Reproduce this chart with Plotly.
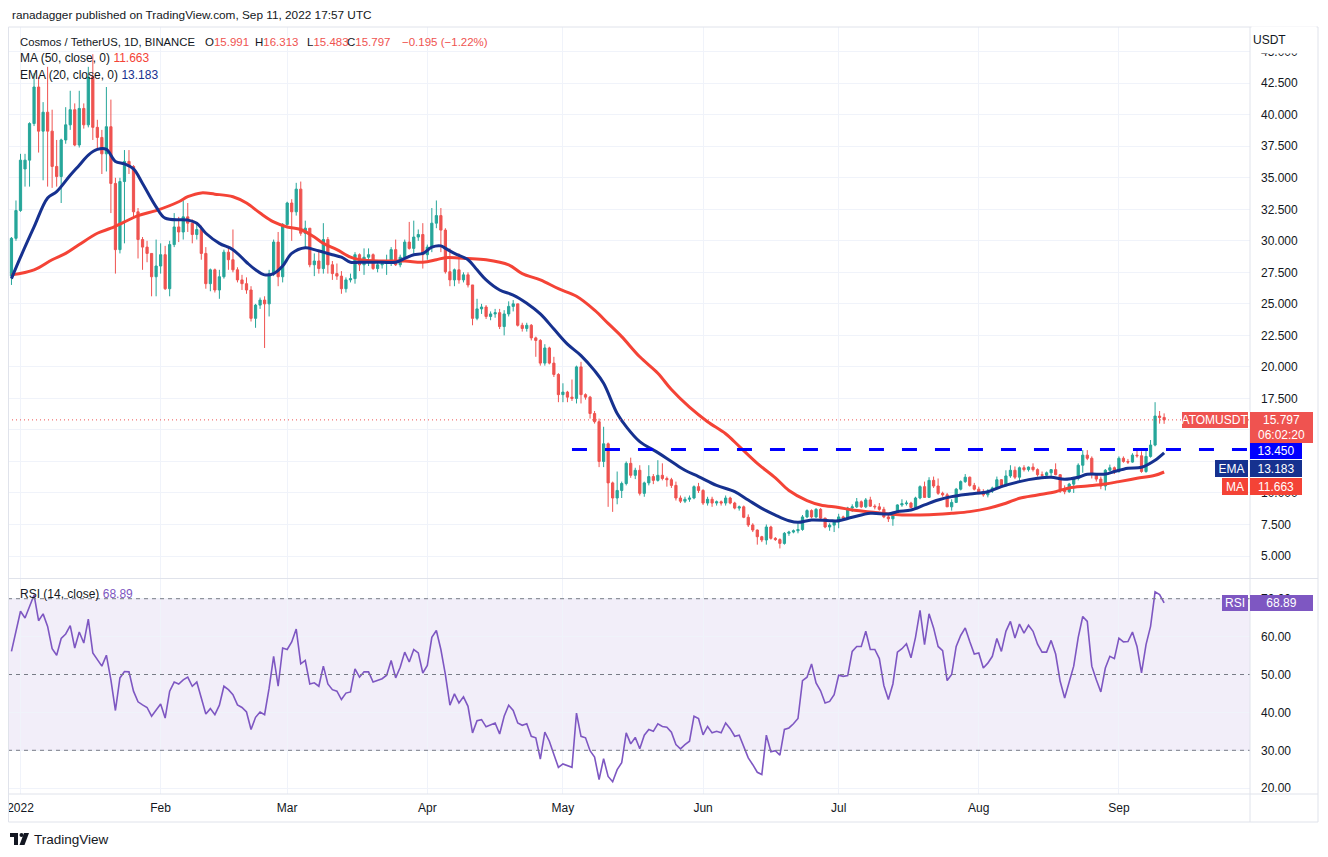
import plotly.graph_objects as go
import pandas as pd

# The page body has an 8px margin, so the figure is drawn 8px in from the top-left.
OX, OY = 8, 8
W, H = 1328 - 2 * OX, 857 - 2 * OY
def fx(x): return (x - OX) / W
def fy(y): return 1 - (y - OY) / H

UP, DOWN = "#26A69A", "#EF5350"
TEXT = "#131722"
GRID = "#F0F3FA"
BORDER = "#E0E3EB"
FONT = "Liberation Sans"
MA_COL = "#F44336"
EMA_COL = "#16318F"
RSI_COL = "#7E57C2"

# ---------------- data ----------------
first_day = "2021-12-30"
open_ = [
 27.2, 30.2, 32.4, 35.7, 36.4, 39.3, 42.2, 38.7, 40.2, 38.7,
 35.9, 35.1, 38.0, 39.2, 40.4, 37.6, 40.5, 39.2, 43.0, 39.0,
 38.2, 36.9, 39.05, 34.55, 29.3, 34.7, 36.3, 35.9, 32.3, 30.1,
 29.5, 29.0, 27.15, 28.0, 28.9, 26.2, 29.7, 31.1, 30.7, 31.9,
 31.4, 30.5, 30.9, 29.0, 26.6, 27.7, 26.1, 27.15, 29.1, 28.5,
 27.7, 26.9, 26.6, 26.1, 23.85, 24.9, 25.3, 25.0, 27.4, 29.9,
 27.15, 31.3, 33.0, 32.3, 34.1, 30.6, 31.0, 28.1, 28.4, 27.8,
 30.1, 28.1, 27.4, 27.2, 26.2, 26.9, 27.0, 28.9, 28.1, 28.7,
 28.9, 27.8, 28.1, 28.2, 28.4, 29.3, 28.1, 28.7, 29.9, 29.4,
 30.3, 30.5, 28.9, 29.5, 31.4, 32.0, 30.85, 27.55, 26.9, 27.7,
 26.9, 27.3, 26.5, 23.85, 24.6, 24.75, 24.0, 24.2, 24.3, 23.2,
 24.2, 24.8, 25.0, 23.3, 23.05, 23.3, 22.3, 22.1, 20.3, 21.5,
 20.3, 19.4, 17.8, 18.0, 17.6, 17.5, 20.0, 17.8, 17.6, 16.3,
 15.65, 12.5, 13.9, 10.8, 9.6, 10.2, 10.75, 12.35, 11.4, 11.8,
 9.97, 10.8, 11.3, 11.0, 11.4, 11.15, 11.05, 10.6, 9.6, 9.35,
 9.5, 9.6, 10.5, 10.2, 9.2, 9.5, 9.2, 9.3, 9.2, 9.6,
 9.2, 8.8, 8.9, 8.07, 7.46, 7.06, 6.53, 6.27, 7.3, 6.4,
 6.3, 6.0, 6.8, 6.9, 7.0, 7.1, 8.1, 8.6, 8.1, 8.7,
 8.0, 7.3, 7.45, 7.7, 8.1, 8.0, 8.8, 8.9, 9.3, 8.9,
 9.45, 8.95, 8.9, 8.7, 8.1, 7.95, 8.45, 9.05, 9.15, 9.2,
 8.85, 9.6, 10.5, 9.65, 11.0, 10.55, 9.97, 9.85, 8.9, 9.25,
 10.3, 10.9, 11.25, 10.6, 10.3, 10.0, 9.85, 10.15, 10.4, 11.05,
 10.6, 11.35, 11.8, 11.25, 12.0, 11.85, 12.05, 11.85, 11.45, 11.4,
 11.6, 11.85, 11.45, 10.25, 10.1, 10.7, 11.15, 12.2, 13.0, 12.75,
 11.45, 11.1, 10.55, 11.8, 12.0, 11.7, 12.75, 12.5, 12.45, 13.0,
 12.95, 11.7, 12.9, 13.8, 16.1, 15.991]
high = [
 30.3, 33.2, 36.9, 36.9, 39.4, 43.3, 43.0, 41.0, 43.8, 40.4,
 38.0, 38.1, 40.6, 41.9, 40.9, 41.9, 40.9, 43.8, 44.8, 39.6,
 38.8, 42.2, 41.2, 35.0, 35.0, 37.2, 37.2, 36.0, 32.6, 30.3,
 30.0, 29.0, 30.1, 29.8, 29.6, 30.0, 32.2, 31.9, 33.2, 33.0,
 31.7, 31.3, 31.2, 29.5, 27.8, 27.8, 27.7, 29.3, 29.6, 30.9,
 27.9, 27.3, 27.1, 26.4, 25.0, 25.5, 25.6, 27.7, 30.1, 30.7,
 31.4, 33.1, 33.3, 34.6, 34.7, 31.6, 31.0, 29.0, 29.3, 31.4,
 30.3, 28.4, 28.2, 27.6, 27.1, 27.4, 29.1, 29.0, 29.4, 29.4,
 29.0, 28.4, 28.4, 28.9, 29.5, 30.1, 28.9, 30.1, 31.5, 31.6,
 30.9, 31.4, 29.7, 32.6, 33.2, 32.6, 31.0, 29.4, 27.8, 29.0,
 27.5, 27.5, 26.5, 25.4, 25.0, 24.9, 24.4, 24.6, 24.6, 24.5,
 25.2, 25.3, 25.0, 23.5, 23.5, 23.4, 22.4, 22.2, 21.8, 21.6,
 20.8, 19.5, 18.7, 18.1, 19.0, 20.1, 20.4, 17.9, 17.7, 16.5,
 15.9, 15.25, 14.0, 10.9, 11.7, 10.9, 12.5, 12.8, 12.0, 12.2,
 10.9, 12.2, 11.5, 12.6, 12.35, 11.3, 11.2, 10.9, 9.8, 9.7,
 9.8, 10.6, 10.8, 10.3, 9.7, 9.7, 9.4, 9.4, 9.8, 9.7,
 9.3, 9.0, 9.0, 8.3, 7.6, 7.1, 6.6, 7.5, 7.4, 6.5,
 6.4, 6.9, 7.0, 7.1, 7.6, 8.25, 8.7, 8.7, 8.8, 8.8,
 8.05, 7.6, 7.8, 8.35, 8.2, 8.9, 9.1, 9.6, 9.4, 9.6,
 9.7, 9.1, 9.2, 8.9, 8.3, 8.5, 9.1, 9.5, 9.4, 9.3,
 9.7, 10.6, 10.9, 11.25, 11.3, 11.15, 10.1, 10.0, 9.5, 10.4,
 11.0, 11.5, 11.3, 10.8, 10.5, 10.3, 10.3, 10.5, 11.3, 11.1,
 11.8, 12.2, 12.1, 12.1, 12.2, 12.1, 12.35, 11.95, 11.7, 11.7,
 11.9, 12.35, 11.5, 10.6, 10.8, 11.25, 12.35, 13.4, 13.4, 12.9,
 11.5, 11.3, 11.9, 12.25, 12.1, 12.9, 12.9, 12.7, 13.15, 13.35,
 13.3, 13.4, 14.2, 17.2, 16.5, 16.313]
low = [
 26.5, 30.0, 32.3, 34.3, 34.3, 39.1, 37.0, 34.8, 34.3, 34.2,
 34.3, 33.0, 37.7, 38.8, 37.5, 37.4, 38.9, 39.0, 38.0, 37.2,
 35.3, 35.5, 32.2, 27.4, 29.0, 29.8, 35.3, 31.9, 28.6, 27.7,
 28.3, 25.6, 25.6, 27.4, 26.1, 25.6, 29.5, 29.9, 30.1, 30.7,
 29.8, 30.1, 28.5, 26.2, 26.0, 25.9, 25.4, 27.0, 27.7, 27.5,
 26.7, 26.1, 25.8, 23.6, 23.1, 24.6, 21.5, 24.0, 27.2, 26.4,
 26.7, 31.2, 30.0, 32.0, 30.4, 29.5, 27.9, 27.2, 27.4, 27.4,
 27.4, 26.9, 26.9, 25.8, 25.9, 26.7, 26.6, 27.6, 27.3, 28.0,
 27.7, 27.5, 27.8, 27.3, 28.0, 28.0, 27.9, 28.5, 29.3, 29.0,
 30.0, 27.8, 28.5, 29.1, 31.0, 29.1, 27.4, 26.4, 26.4, 26.6,
 26.7, 26.3, 23.3, 23.7, 24.2, 23.8, 23.7, 23.9, 23.0, 22.5,
 24.0, 24.4, 23.2, 22.8, 22.8, 22.1, 20.8, 20.1, 20.1, 20.2,
 19.2, 17.2, 17.2, 17.2, 17.3, 17.1, 17.1, 17.4, 15.9, 15.5,
 12.05, 12.05, 8.9, 8.5, 9.1, 9.6, 10.6, 11.2, 11.1, 9.8,
 9.7, 10.6, 10.7, 10.9, 11.0, 10.5, 10.4, 9.4, 9.2, 9.2,
 9.3, 9.5, 10.0, 9.05, 9.0, 8.9, 9.0, 9.0, 9.0, 9.1,
 8.7, 8.6, 8.0, 7.3, 6.9, 5.9, 6.1, 5.9, 6.3, 6.2,
 5.6, 5.9, 6.6, 6.8, 6.8, 7.0, 8.0, 8.0, 8.0, 7.9,
 7.2, 7.0, 6.9, 7.2, 7.8, 7.9, 8.5, 8.8, 8.8, 8.8,
 8.9, 8.7, 8.6, 8.0, 7.7, 7.4, 8.4, 8.9, 9.0, 8.8,
 8.8, 9.5, 9.6, 9.6, 10.4, 9.85, 9.7, 8.9, 8.6, 9.2,
 10.2, 10.8, 10.5, 10.2, 9.9, 9.7, 9.65, 10.0, 10.3, 10.5,
 10.5, 11.2, 11.1, 10.8, 11.7, 11.7, 11.7, 11.3, 11.2, 11.3,
 11.3, 11.4, 10.0, 9.9, 10.0, 10.0, 11.0, 11.6, 12.6, 11.15,
 10.9, 10.3, 10.2, 11.7, 11.5, 11.6, 12.4, 12.3, 12.4, 12.8,
 11.6, 11.6, 12.8, 13.7, 15.5, 15.483]
close = [
 30.2, 32.4, 36.4, 36.4, 39.3, 42.2, 38.7, 40.2, 38.7, 35.9,
 35.1, 38.0, 39.2, 40.4, 37.6, 40.5, 39.2, 43.0, 39.0, 38.2,
 36.9, 39.05, 34.55, 29.3, 34.7, 36.3, 35.9, 32.3, 30.1, 29.5,
 29.0, 27.15, 28.0, 28.9, 26.2, 29.7, 31.1, 30.7, 31.9, 31.4,
 30.5, 30.9, 29.0, 26.6, 27.7, 26.1, 27.15, 29.1, 28.5, 27.7,
 26.9, 26.6, 26.1, 23.85, 24.9, 25.3, 25.0, 27.4, 29.9, 27.15,
 31.3, 33.0, 32.3, 34.1, 30.6, 31.0, 28.1, 28.4, 27.8, 30.1,
 28.1, 27.4, 27.2, 26.2, 26.9, 27.0, 28.9, 28.1, 28.7, 28.9,
 27.8, 28.1, 28.2, 28.4, 29.3, 28.1, 28.7, 29.9, 29.4, 30.3,
 30.5, 28.9, 29.5, 31.4, 32.0, 30.85, 27.55, 26.9, 27.7, 26.9,
 27.3, 26.5, 23.85, 24.6, 24.75, 24.0, 24.2, 24.3, 23.2, 24.2,
 24.8, 25.0, 23.3, 23.05, 23.3, 22.3, 22.1, 20.3, 21.5, 20.3,
 19.4, 17.8, 18.0, 17.6, 17.5, 20.0, 17.8, 17.6, 16.3, 15.65,
 12.5, 13.9, 10.8, 9.6, 10.2, 10.75, 12.35, 11.4, 11.8, 9.97,
 10.8, 11.3, 11.0, 11.4, 11.15, 11.05, 10.6, 9.6, 9.35, 9.5,
 9.6, 10.5, 10.2, 9.2, 9.5, 9.2, 9.3, 9.2, 9.6, 9.2,
 8.8, 8.9, 8.07, 7.46, 7.06, 6.53, 6.27, 7.3, 6.4, 6.3,
 6.0, 6.8, 6.9, 7.0, 7.1, 8.1, 8.6, 8.1, 8.7, 8.0,
 7.3, 7.45, 7.7, 8.1, 8.0, 8.8, 8.9, 9.3, 8.9, 9.45,
 8.95, 8.9, 8.7, 8.1, 7.95, 8.45, 9.05, 9.15, 9.2, 8.85,
 9.6, 10.5, 9.65, 11.0, 10.55, 9.97, 9.85, 8.9, 9.25, 10.3,
 10.9, 11.25, 10.6, 10.3, 10.0, 9.85, 10.15, 10.4, 11.05, 10.6,
 11.35, 11.8, 11.25, 12.0, 11.85, 12.05, 11.85, 11.45, 11.4, 11.6,
 11.85, 11.45, 10.25, 10.1, 10.7, 11.15, 12.2, 13.0, 12.75, 11.45,
 11.1, 10.55, 11.8, 12.0, 11.7, 12.75, 12.5, 12.45, 13.0, 12.95,
 11.7, 12.9, 13.8, 16.1, 15.991, 15.797]

# moving averages, sampled along the drawn lines (day offset from 2022-01-01)
ma_day = [-2, 3, 7, 10, 13, 17, 20, 23, 26, 30,
          35, 37, 40, 43, 47, 50, 53, 56, 59, 62,
          65, 67, 70, 73, 75, 80, 85, 89, 92, 94,
          99, 103, 108, 111, 115, 119, 123, 127, 130, 133,
          137, 141, 144, 148, 152, 156, 159, 163, 167, 170,
          174, 177, 181, 184, 188, 192, 195, 199, 203, 206,
          210, 214, 218, 221, 225, 229, 232, 236, 240, 243,
          247, 251, 253]
ma_val = [27.3, 27.7, 28.5, 29.0, 29.7, 30.6, 31.0, 31.5, 32.0, 32.4,
          33.1, 33.5, 33.8, 33.7, 33.5, 33.0, 32.2, 31.5, 31.1, 30.9,
          30.3, 29.8, 29.3, 28.7, 28.5, 28.4, 28.4, 28.3, 28.5, 28.66,
          28.6, 28.5, 28.1, 27.4, 26.9, 26.2, 25.6, 24.5, 23.45, 22.4,
          20.8, 19.5, 18.2, 16.8, 15.65, 14.7, 13.7, 12.35, 11.2, 10.2,
          9.4, 9.05, 8.85, 8.65, 8.5, 8.33, 8.26, 8.26, 8.31, 8.39,
          8.52, 8.78, 9.18, 9.58, 9.84, 10.1, 10.4, 10.55, 10.71, 10.9,
          11.16, 11.4, 11.663]
ema_day = [-2, 0, 3, 6, 8, 11, 13, 15, 17, 19,
           21, 23, 25, 27, 30, 32, 37, 39, 41, 44,
           47, 50, 52, 54, 56, 58, 60, 63, 65, 67,
           69, 71, 73, 75, 80, 83, 85, 87, 89, 91,
           93, 94, 96, 99, 101, 103, 106, 109, 112, 115,
           118, 121, 124, 127, 129, 132, 134, 137, 141, 144,
           147, 150, 154, 158, 161, 164, 167, 170, 172, 175,
           179, 181, 184, 188, 192, 194, 197, 200, 203, 206,
           210, 214, 217, 221, 225, 228, 231, 234, 236, 240,
           242, 245, 248, 251, 253]
ema_val = [27.0, 28.7, 31.1, 33.4, 33.9, 35.2, 36.0, 36.8, 37.25, 37.25,
           36.3, 36.1, 35.7, 34.55, 32.7, 31.8, 31.65, 31.4, 30.6, 29.8,
           29.3, 28.3, 27.7, 27.3, 27.4, 28.0, 29.0, 29.45, 29.3, 29.1,
           28.9, 28.7, 28.3, 28.3, 28.3, 28.3, 28.6, 28.9, 29.0, 29.5,
           29.6, 29.4, 29.0, 28.5, 27.7, 26.9, 26.1, 25.7, 25.05, 24.2,
           23.0, 21.8, 20.9, 19.7, 18.7, 16.3, 15.26, 14.07, 13.2, 12.5,
           11.8, 11.3, 10.6, 10.1, 9.44, 8.78, 8.25, 7.8, 7.67, 7.86,
           7.8, 7.8, 8.07, 8.39, 8.33, 8.52, 8.65, 9.05, 9.44, 9.71,
           9.92, 10.1, 10.5, 10.9, 11.16, 11.24, 11.08, 11.24, 11.48, 11.5,
           11.7, 11.96, 12.04, 12.6, 13.183]

rsi_day = [-2, 0, 1, 3, 4, 5, 6, 7, 8, 9,
           10, 11, 12, 13, 14, 15, 16, 17, 18, 19,
           20, 21, 22, 23, 24, 25, 26, 27, 28, 29,
           30, 31, 32, 33, 34, 35, 36, 37, 38, 39,
           40, 41, 42, 43, 44, 45, 46, 47, 48, 49,
           50, 51, 52, 53, 54, 55, 56, 57, 58, 59,
           60, 61, 62, 63, 64, 65, 66, 67, 68, 69,
           70, 71, 72, 73, 74, 75, 76, 77, 78, 79,
           80, 81, 82, 83, 84, 85, 86, 87, 88, 89,
           90, 91, 92, 93, 94, 95, 96, 97, 98, 99,
           100, 101, 102, 103, 105, 106, 107, 108, 109, 110,
           111, 112, 113, 114, 115, 116, 117, 118, 119, 120,
           122, 123, 124, 125, 126, 127, 128, 129, 130, 131,
           132, 133, 134, 135, 136, 137, 138, 139, 140, 141,
           142, 143, 144, 145, 146, 147, 148, 149, 150, 151,
           152, 153, 154, 155, 156, 157, 158, 159, 160, 161,
           162, 163, 164, 165, 166, 167, 168, 169, 170, 171,
           172, 173, 174, 175, 176, 177, 178, 179, 180, 181,
           182, 183, 184, 185, 186, 187, 188, 189, 190, 191,
           192, 193, 194, 195, 196, 197, 198, 199, 200, 201,
           202, 203, 204, 205, 206, 207, 208, 209, 210, 211,
           212, 213, 214, 215, 216, 217, 218, 219, 220, 221,
           222, 223, 224, 225, 226, 227, 228, 229, 230, 231,
           232, 233, 234, 235, 236, 237, 238, 239, 240, 241,
           242, 243, 244, 245, 246, 247, 248, 249, 250, 251,
           252, 253]
rsi_val = [56.1, 66.7, 64.9, 71.0, 64.2, 66.0, 62.7, 56.8, 55.1, 59.5,
           60.7, 62.9, 57.0, 61.2, 58.3, 64.6, 55.7, 53.9, 52.2, 55.1,
           48.6, 40.5, 49.1, 50.8, 50.7, 45.6, 42.8, 42.0, 41.3, 39.0,
           40.7, 42.2, 38.5, 45.6, 48.0, 47.5, 48.6, 49.3, 46.9, 48.0,
           43.8, 39.6, 41.0, 39.4, 41.9, 46.9, 46.0, 44.7, 42.0, 41.3,
           40.1, 35.5, 38.7, 40.1, 39.4, 46.4, 54.8, 46.9, 57.0, 56.6,
           58.6, 62.0, 52.8, 53.7, 47.5, 47.8, 46.9, 52.2, 47.5, 46.0,
           45.6, 43.4, 45.1, 45.4, 51.5, 49.3, 50.7, 50.7, 48.0, 48.4,
           48.9, 49.8, 53.7, 49.1, 51.9, 55.9, 53.3, 56.6, 55.7, 50.4,
           52.4, 59.8, 61.6, 56.6, 50.0, 41.9, 44.9, 42.5, 44.1, 41.6,
           34.6, 37.8, 38.1, 36.2, 37.2, 34.3, 39.0, 41.9, 40.5, 37.2,
           36.6, 37.0, 33.7, 33.3, 27.7, 34.8, 32.4, 28.9, 25.5, 26.4,
           25.5, 39.8, 33.7, 33.3, 29.9, 28.2, 22.3, 27.8, 23.1, 21.7,
           24.9, 26.7, 34.6, 31.7, 33.4, 30.4, 34.0, 35.5, 35.0, 37.0,
           36.3, 36.1, 34.8, 31.5, 30.4, 31.5, 32.4, 39.0, 38.4, 34.1,
           36.3, 34.6, 35.0, 34.6, 37.2, 35.7, 33.7, 34.0, 31.1, 28.0,
           26.2, 24.2, 23.6, 34.0, 29.6, 29.9, 28.7, 35.5, 35.9, 37.0,
           38.4, 48.4, 49.3, 52.8, 47.8, 45.7, 42.5, 42.9, 44.7, 49.8,
           49.5, 49.7, 56.1, 57.4, 57.4, 61.4, 56.6, 56.6, 54.2, 47.1,
           43.4, 47.5, 55.9, 56.8, 58.1, 54.4, 59.8, 66.9, 57.9, 66.0,
           62.3, 57.4, 56.3, 48.4, 50.0, 57.4, 60.3, 62.3, 58.7, 55.4,
           55.7, 51.7, 53.0, 54.8, 59.5, 56.1, 61.4, 64.0, 59.6, 63.3,
           60.9, 63.0, 61.4, 58.0, 55.9, 55.9, 59.0, 55.4, 48.2, 43.8,
           48.0, 52.2, 59.8, 65.3, 64.0, 52.2, 48.6, 45.4, 51.7, 54.8,
           54.2, 59.6, 58.6, 58.7, 61.2, 57.4, 50.4, 57.9, 62.7, 71.8,
           71.1, 68.89]

month_ticks = ["2022-01-01", "2022-02-01", "2022-03-01", "2022-04-01", "2022-05-01",
               "2022-06-01", "2022-07-01", "2022-08-01", "2022-09-01"]
month_text = ["2022", "Feb", "Mar", "Apr", "May", "Jun", "Jul", "Aug", "Sep"]
price_ticks = [5.0, 7.5, 10.0, 12.5, 15.0, 17.5, 20.0, 22.5, 25.0, 27.5,
               30.0, 32.5, 35.0, 37.5, 40.0, 42.5, 45.0]
price_hidden = [12.5, 15.0]          # labels covered by the price-scale tags
rsi_ticks = [20, 30, 40, 50, 60, 70]

resistance = 13.450
resistance_from = "2022-05-03"
ma_last, ema_last, rsi_last = 11.663, 13.183, 68.89

assert len(open_) == len(high) == len(low) == len(close)
assert len(ma_day) == len(ma_val) and len(ema_day) == len(ema_val) and len(rsi_day) == len(rsi_val)

# ---------------- figure ----------------
base = pd.Timestamp("2022-01-01")
def to_dates(days):
    return [base + pd.Timedelta(days=d) for d in days]

dates = pd.date_range(first_day, periods=len(close), freq="D")
x_lo = base + pd.Timedelta(days=-2.765)
x_hi = base + pd.Timedelta(days=272.0)

fig = go.Figure()
fig.add_trace(go.Candlestick(
    x=dates, open=open_, high=high, low=low, close=close,
    increasing=dict(line=dict(color=UP, width=1), fillcolor=UP),
    decreasing=dict(line=dict(color=DOWN, width=1), fillcolor=DOWN),
    whiskerwidth=0, xaxis="x", yaxis="y", showlegend=False, hoverinfo="skip"))
fig.add_trace(go.Scatter(x=to_dates(ma_day), y=ma_val, mode="lines",
    line=dict(color=MA_COL, width=3, shape="spline", smoothing=1.0),
    xaxis="x", yaxis="y", showlegend=False, hoverinfo="skip"))
fig.add_trace(go.Scatter(x=to_dates(ema_day), y=ema_val, mode="lines",
    line=dict(color=EMA_COL, width=3, shape="spline", smoothing=1.0),
    xaxis="x", yaxis="y", showlegend=False, hoverinfo="skip"))
fig.add_trace(go.Scatter(x=to_dates(rsi_day), y=rsi_val, mode="lines",
    line=dict(color=RSI_COL, width=1.6),
    xaxis="x2", yaxis="y2", showlegend=False, hoverinfo="skip"))

axfont = dict(family=FONT, size=12, color=TEXT)
fig.update_layout(
    width=W, height=H, margin=dict(l=0, r=0, t=0, b=0),
    paper_bgcolor="white", plot_bgcolor="white", showlegend=False,
    xaxis=dict(domain=[fx(8), fx(1250)], anchor="y", type="date", range=[x_lo, x_hi],
               tickvals=month_ticks, showticklabels=False, showgrid=True, gridcolor=GRID,
               zeroline=False, showline=False, ticks="", rangeslider=dict(visible=False)),
    xaxis2=dict(domain=[fx(8), fx(1250)], anchor="y2", type="date", range=[x_lo, x_hi],
                tickvals=month_ticks, ticktext=month_text, showgrid=True, gridcolor=GRID,
                zeroline=False, showline=False, ticks="", tickfont=axfont,
                ticklabelstandoff=5, ticklabeloverflow="allow"),
    yaxis=dict(domain=[fy(578), fy(27)], anchor="x", side="right", range=[3.255, 46.96],
               tickvals=price_ticks,
               ticktext=["" if v in price_hidden else f"{v:.3f}" for v in price_ticks],
               showgrid=True, gridcolor=GRID, zeroline=False, showline=False, ticks="",
               tickfont=axfont, ticklabelstandoff=10),
    yaxis2=dict(domain=[fy(794), fy(579)], anchor="x2", side="right", range=[18.47, 75.2],
                tickvals=rsi_ticks, ticktext=[f"{v:.2f}" for v in rsi_ticks],
                showgrid=True, gridcolor=GRID, zeroline=False, showline=False, ticks="",
                tickfont=axfont, ticklabelstandoff=10),
)

shapes = []
shapes.append(dict(type="rect", xref="paper", yref="y2", x0=fx(8), x1=fx(1250), y0=30, y1=70,
                   fillcolor="rgba(126,87,194,0.10)", line=dict(width=0), layer="below"))
for lvl in (70, 50, 30):
    shapes.append(dict(type="line", xref="paper", yref="y2", x0=fx(8), x1=fx(1250), y0=lvl, y1=lvl,
                       line=dict(color="#787B86", width=1, dash="4px,4px")))
shapes.append(dict(type="line", xref="paper", yref="y", x0=fx(8), x1=fx(1250),
                   y0=close[-1], y1=close[-1], line=dict(color=DOWN, width=1, dash="1px,3px")))
shapes.append(dict(type="line", xref="x", yref="y", x0=resistance_from, x1=x_hi,
                   y0=resistance, y1=resistance, line=dict(color="#0000FF", width=3, dash="15px,18px")))
def pline(x0, y0, x1, y1, col=BORDER, w=1):
    shapes.append(dict(type="line", xref="paper", yref="paper", x0=fx(x0), y0=fy(y0),
                       x1=fx(x1), y1=fy(y1), line=dict(color=col, width=w)))
pline(8.5, 27, 1318, 27)
pline(8.5, 822, 1318, 822)
pline(8.5, 27, 8.5, 822)
pline(1318, 27, 1318, 822)
pline(1250, 27, 1250, 822)
pline(8.5, 794, 1318, 794)
pline(8.5, 578.5, 1318, 578.5)
def prect(x0, y0, x1, y1, col):
    shapes.append(dict(type="rect", xref="paper", yref="paper", x0=fx(x0), y0=fy(y0),
                       x1=fx(x1), y1=fy(y1), fillcolor=col, line=dict(width=0)))
prect(10, 833, 18, 837, TEXT)
prect(14, 833, 18, 845, TEXT)
shapes.append(dict(type="circle", xref="paper", yref="paper", x0=fx(19.5), x1=fx(23.5),
                   y0=fy(833), y1=fy(837), fillcolor=TEXT, line=dict(width=0)))
shapes.append(dict(type="path", xref="paper", yref="paper",
                   path=f"M {fx(24)} {fy(833)} L {fx(29)} {fy(833)} L {fx(24.5)} {fy(845)} L {fx(19.5)} {fy(845)} Z",
                   fillcolor=TEXT, line=dict(width=0)))
fig.update_layout(shapes=shapes)

ann = []
def text(t, x, y, size=12, color=TEXT, anchor="left"):
    ann.append(dict(text=t, x=fx(x), y=fy(y), xref="paper", yref="paper", xanchor=anchor,
                    yanchor="middle", showarrow=False, font=dict(family=FONT, size=size, color=color)))
def box(t, x0, x1, y0, y1, bg, size=12):
    ann.append(dict(text=t, x=fx((x0 + x1) / 2), y=fy((y0 + y1) / 2), xref="paper", yref="paper",
                    xanchor="center", yanchor="middle", width=x1 - x0, height=y1 - y0,
                    bgcolor=bg, borderpad=0, borderwidth=0, showarrow=False, align="center",
                    font=dict(family=FONT, size=size, color="white")))

red = lambda s: f"<span style='color:{DOWN}'>{s}</span>"
text("ranadagger published on TradingView.com, Sep 11, 2022 17:57 UTC", 10, 15, size=11.8)
text("Cosmos / TetherUS, 1D, BINANCE", 18, 42, size=11.3)
text("O" + red(f"{open_[-1]:.3f}"), 203, 42, size=11.5)
text("H" + red(f"{high[-1]:.3f}"), 253, 42, size=11.5)
text("L" + red(f"{low[-1]:.3f}"), 305, 42, size=11.5)
text("C" + red(f"{close[-1]:.3f}"), 345, 42, size=11.5)
text(red("\u22120.195 (\u22121.22%)"), 400, 42, size=11.5)
text(f"MA (50, close, 0) <span style='color:{MA_COL}'>{ma_last:.3f}</span>", 18, 58)
text(f"EMA (20, close, 0) <span style='color:{EMA_COL}'>{ema_last:.3f}</span>", 18, 75)
text(f"RSI (14, close) <span style='color:{RSI_COL}'>{rsi_last:.2f}</span>", 18, 594)

ann.append(dict(text="USDT", x=fx(1251), y=fy(40), xref="paper", yref="paper", xanchor="left",
                yanchor="middle", width=62, height=24, bgcolor="white", align="left",
                showarrow=False, font=dict(family=FONT, size=12, color=TEXT)))

box("ATOMUSDT", 1182, 1248, 412, 428, DOWN)
box(f"{close[-1]:.3f}<br>06:02:20", 1250, 1313, 412, 443, DOWN)
box(f"{resistance:.3f}", 1250, 1302, 443, 459, "#0000FF")
box("EMA", 1215, 1248, 460, 477, EMA_COL)
box(f"{ema_last:.3f}", 1250, 1302, 460, 477, EMA_COL)
box("MA", 1222, 1248, 478, 495, MA_COL)
box(f"{ma_last:.3f}", 1250, 1302, 478, 495, MA_COL)
box("RSI", 1222, 1248, 595, 611, RSI_COL)
box(f"{rsi_last:.2f}", 1250, 1313, 595, 611, RSI_COL)

text("TradingView", 32, 839, size=13.5)
fig.update_layout(annotations=ann)

fig.write_html("out.html")
